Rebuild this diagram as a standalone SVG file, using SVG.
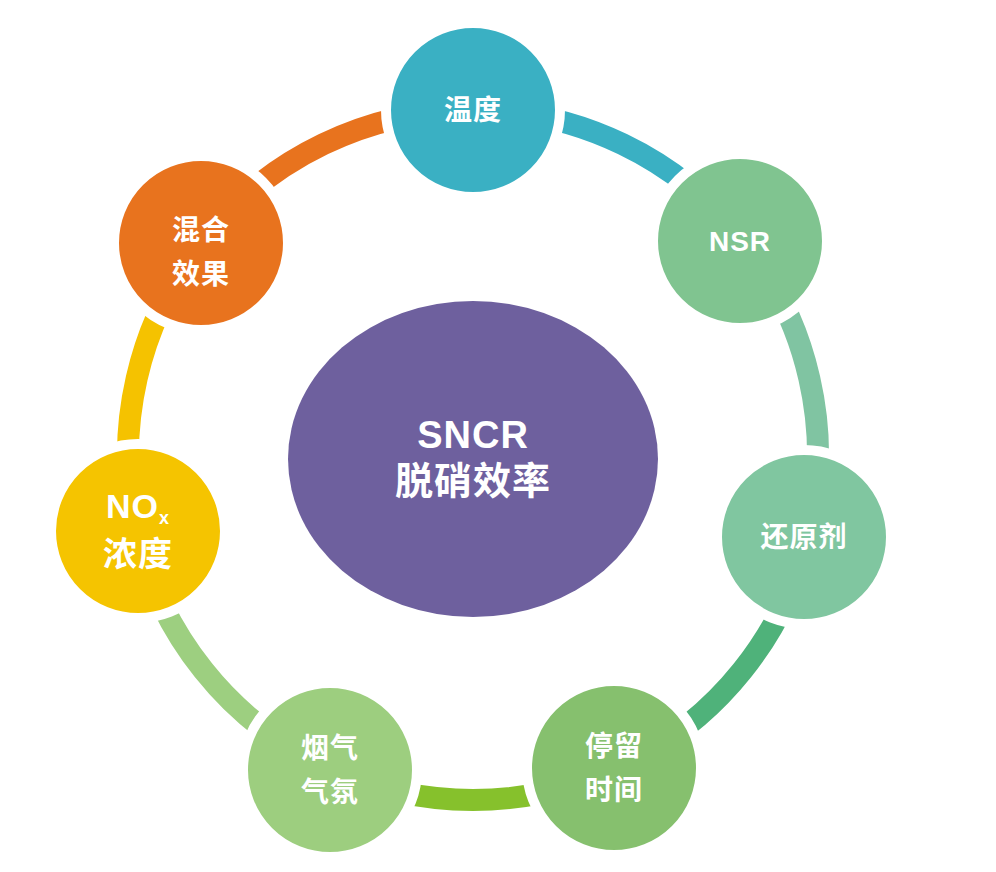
<svg xmlns="http://www.w3.org/2000/svg" width="996" height="872" viewBox="0 0 996 872">
<style>
.seg{fill:none;stroke-width:22}
.node{stroke:#fff;stroke-width:10}
.t{fill:#fff;font-family:"Liberation Sans","Noto Sans CJK SC",sans-serif;font-weight:bold;font-size:28px;text-anchor:middle;letter-spacing:1px}
.c{font-size:38px}
</style>
<rect width="996" height="872" fill="#fff"/>
<g id="connectors">
<path class="seg" stroke="#3ab0c3" d="M473,110 A345,345 0 0 1 742.6,239.9"/>
<path class="seg" stroke="#80c4a2" d="M742.6,239.9 A345,345 0 0 1 809.3,532"/>
<path class="seg" stroke="#4fb27a" d="M809.3,532 A345,345 0 0 1 622.6,765.8"/>
<path class="seg" stroke="#86c12c" d="M622.6,765.8 A345,345 0 0 1 323.4,765.8"/>
<path class="seg" stroke="#9dcf80" d="M323.4,765.8 A345,345 0 0 1 136.7,532"/>
<path class="seg" stroke="#f5c200" d="M136.7,532 A345,345 0 0 1 203.4,239.9"/>
<path class="seg" stroke="#e8731e" d="M203.4,239.9 A345,345 0 0 1 473,110"/>
</g>
<g id="center"><ellipse cx="473" cy="459" rx="185" ry="158" fill="#6e609e"/>
<text class="t c" x="473" y="448">SNCR</text><text class="t c" x="473" y="494">脱硝效率</text></g>
<g id="n1"><circle class="node" cx="473" cy="110" r="87" fill="#3ab0c3"/><text class="t" x="473" y="120">温度</text></g>
<g id="n2"><circle class="node" cx="740" cy="241" r="87" fill="#80c490"/><text class="t" x="740" y="251">NSR</text></g>
<g id="n3"><circle class="node" cx="804" cy="537" r="87" fill="#80c6a0"/><text class="t" x="804" y="547">还原剂</text></g>
<g id="n4"><circle class="node" cx="614" cy="768" r="87" fill="#86c06e"/><text class="t" x="614" y="756">停留</text><text class="t" x="614" y="800">时间</text></g>
<g id="n5"><circle class="node" cx="330" cy="770" r="87" fill="#9dce7f"/><text class="t" x="330" y="758">烟气</text><text class="t" x="330" y="802">气氛</text></g>
<g id="n6"><circle class="node" cx="138" cy="531" r="87" fill="#f5c400"/><text class="t" x="138" y="518" style="font-size:34px">NO<tspan font-size="18" dy="6">x</tspan></text><text class="t" x="138" y="566" style="font-size:34px">浓度</text></g>
<g id="n7"><circle class="node" cx="201" cy="243" r="87" fill="#e8731e"/><text class="t" x="201" y="240">混合</text><text class="t" x="201" y="284">效果</text></g>
</svg>
